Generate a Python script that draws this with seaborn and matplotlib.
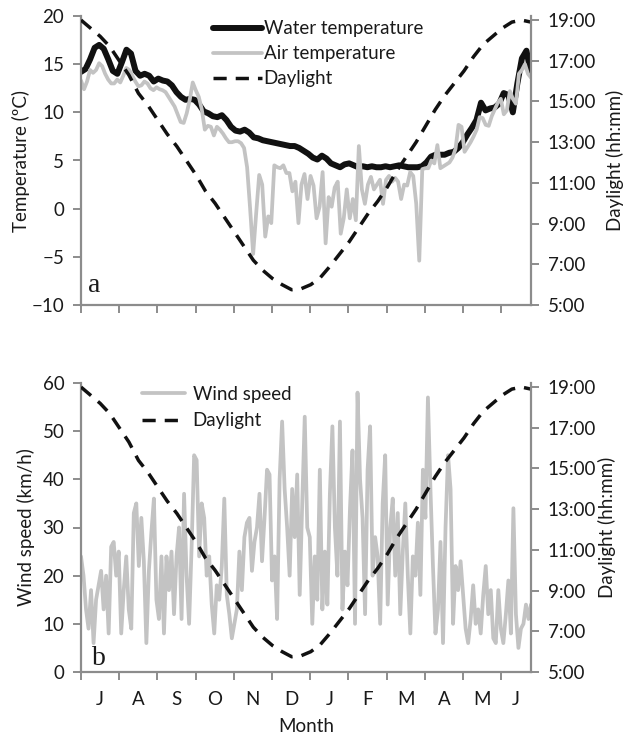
import numpy as np
import pandas as pd
import matplotlib
matplotlib.use("Agg")
import matplotlib.pyplot as plt
from matplotlib.lines import Line2D
import seaborn as sns

# ---------------- data ----------------
months = ["J", "A", "S", "O", "N", "D", "J", "F", "M", "A", "M", "J"]
x_end_months = 11.78  # data run from 1 July to late June

water_temp = [
    14.2, 14.5, 15.5, 16.7, 17.0, 16.6, 15.5, 14.3, 14.0, 15.2,
    16.5, 16.1, 14.3, 13.8, 14.0, 13.8, 13.2, 13.5, 13.3, 13.2,
    12.8, 12.1, 11.6, 11.3, 11.4, 11.3, 10.8, 10.1, 9.9, 9.6,
    9.5, 9.7, 9.2, 8.5, 8.1, 8.0, 8.2, 7.9, 7.4, 7.3,
    7.1, 7.0, 6.9, 6.8, 6.7, 6.6, 6.5, 6.5, 6.3, 6.0,
    5.7, 5.3, 5.1, 5.5, 5.2, 4.7, 4.5, 4.3, 4.6, 4.7,
    4.5, 4.3, 4.4, 4.3, 4.4, 4.3, 4.3, 4.4, 4.3, 4.4,
    4.5, 4.4, 4.3, 4.3, 4.3, 4.4, 4.8, 5.4, 5.6, 5.6,
    5.6, 5.8, 5.9, 6.3, 6.9, 7.7, 8.4, 9.2, 11.0, 10.2,
    10.4, 10.5, 10.9, 12.0, 11.8, 10.0, 13.0, 15.6, 16.4, 14.0,
]

air_temp = [
    13.3, 12.4, 13.2, 14.4, 14.1, 14.4, 15.1, 14.8, 14.0, 13.4,
    13.0, 13.0, 13.4, 13.1, 13.8, 14.6, 14.4, 13.8, 13.2, 12.7,
    12.8, 13.2, 13.0, 12.5, 12.3, 12.6, 12.4, 12.3, 12.1, 11.6,
    11.1, 10.6, 9.8, 9.0, 8.9, 9.9, 11.3, 13.1, 12.3, 11.6,
    10.3, 8.2, 8.6, 8.5, 7.6, 8.5, 8.2, 7.8, 7.3, 6.9,
    6.9, 7.0, 7.0, 6.8, 6.3, 4.3, 0.0, -4.7, -0.5, 3.5,
    2.5, -2.9, -0.8, -1.5, 4.5, 4.3, 4.2, 4.5, 3.7, 3.7,
    1.8, 2.8, -1.5, 2.5, 3.6, 1.0, 3.4, 2.4, -1.0, 0.2,
    3.8, -3.6, 1.2, 0.2, 2.2, 2.8, -2.6, -1.0, 2.0, -1.0,
    1.0, -1.2, 6.5, 2.0, 0.5, 2.5, 3.3, 2.0, 2.5, 3.0,
    0.5, 3.0, 3.4, 2.8, 3.2, 2.8, 1.0, 2.5, 2.4, 3.8,
    3.4, 0.5, -5.4, 4.1, 4.2, 4.2, 5.0, 4.7, 6.6, 4.2,
    4.4, 4.6, 4.8, 5.3, 6.2, 8.7, 8.5, 5.9, 6.4, 6.9,
    7.5, 8.2, 9.5, 9.4, 8.7, 8.6, 9.6, 10.3, 11.0, 11.4,
    9.8, 10.2, 12.2, 11.4, 10.9, 14.0, 14.4, 15.0, 14.0, 13.6,
]

# daylight length in hours
daylight = [
    19.0, 18.6, 18.2, 17.7, 17.0, 16.3, 15.4, 14.8, 14.1, 13.4,
    12.8, 12.1, 11.4, 10.6, 10.0, 9.3, 8.6, 7.9, 7.2, 6.7,
    6.3, 6.0, 5.75, 5.8, 6.0, 6.35, 6.9, 7.5, 8.1, 8.8,
    9.5, 10.1, 10.8, 11.6, 12.3, 13.0, 13.8, 14.6, 15.3, 15.9,
    16.5, 17.2, 17.8, 18.2, 18.6, 18.9, 19.0, 18.9,
]

wind_speed = [
    24, 20, 13, 9, 17, 6, 15, 18, 21, 13,
    20, 8, 26, 27, 20, 25, 8, 17, 24, 13,
    9, 33, 35, 22, 32, 23, 6, 21, 29, 36,
    15, 11, 24, 8, 24, 17, 25, 12, 24, 30,
    11, 37, 20, 10, 26, 45, 44, 24, 35, 32,
    20, 24, 14, 8, 18, 15, 22, 36, 16, 12,
    7, 10, 13, 25, 17, 28, 31, 32, 21, 27,
    30, 37, 23, 32, 42, 41, 19, 24, 11, 40,
    52, 38, 30, 20, 38, 28, 41, 16, 35, 53,
    30, 28, 10, 24, 15, 42, 13, 25, 14, 37,
    51, 30, 20, 52, 13, 25, 18, 34, 46, 10,
    58, 40, 32, 12, 42, 51, 20, 28, 24, 10,
    35, 45, 14, 30, 36, 20, 33, 12, 25, 35,
    20, 8, 24, 20, 31, 16, 42, 32, 57, 38,
    22, 8, 13, 27, 6, 30, 45, 38, 10, 22,
    17, 23, 16, 9, 6, 11, 18, 10, 13, 8,
    16, 22, 12, 17, 7, 6, 17, 9, 6, 12,
    19, 8, 34, 12, 5, 9, 10, 14, 11, 14,
]

# ---------------- frames ----------------
def frame(values, name):
    return pd.DataFrame({"month": np.linspace(0, x_end_months, len(values)),
                         name: values})

df_water = frame(water_temp, "water")
df_air = frame(air_temp, "air")
df_day = frame(daylight, "daylight")
df_wind = frame(wind_speed, "wind")

# ---------------- style ----------------
sns.set_theme(style="ticks")
plt.rcParams["font.family"] = ["Lato", "DejaVu Sans"]
TXT = "#1a1a1a"
SPINE = "#8c8c8c"
GRAY = "#c3c3c3"
FS = 13.5

fig = plt.figure(figsize=(6.24, 7.38), dpi=100)
ax1 = fig.add_axes([81/624, 1-305/738, 450/624, 289/738])
ax2 = fig.add_axes([81/624, 1-672/738, 450/624, 289/738])

DLW = 2.5
DASH = (3.8, 2.6)
WLW = 4.3
GLW = 2.7


def style_axes(ax, tw):
    for a in (ax, tw):
        a.spines["top"].set_visible(False)
        for s in ("left", "bottom", "right"):
            a.spines[s].set_color(SPINE)
            a.spines[s].set_linewidth(1.6)
    ax.spines["right"].set_visible(False)
    tw.spines["left"].set_visible(False)
    tw.spines["bottom"].set_visible(False)
    ax.set_xlim(0, x_end_months)
    ax.set_xticks(np.arange(0, 12))
    ax.tick_params(axis="x", which="major", length=6, width=1.4, color=SPINE,
                   labelbottom=False, direction="out")
    ax.tick_params(axis="y", length=6, width=1.4, color=SPINE, labelsize=FS,
                   labelcolor=TXT, pad=6)
    tw.set_ylim(5, 19.2)
    hrs = np.arange(5, 20, 2)
    tw.set_yticks(hrs)
    tw.set_yticklabels([f"{h}:00" for h in hrs])
    tw.tick_params(axis="y", length=6, width=1.4, color=SPINE, labelsize=FS,
                   labelcolor=TXT, pad=6)
    ax.grid(False)
    tw.grid(False)


# ---------------- panel a ----------------
tw1 = ax1.twinx()
sns.lineplot(data=df_water, x="month", y="water", ax=ax1, color="#111111",
             linewidth=WLW, legend=False)
sns.lineplot(data=df_air, x="month", y="air", ax=ax1, color=GRAY,
             linewidth=GLW, legend=False)
sns.lineplot(data=df_day, x="month", y="daylight", ax=tw1, color="#111111",
             linewidth=DLW, legend=False)
tw1.lines[-1].set_dashes(DASH)
ax1.set_ylim(-10, 20)
ax1.set_yticks(np.arange(-10, 21, 5))
style_axes(ax1, tw1)
ax1.set_xlabel("")
ax1.set_ylabel("Temperature (\u00baC)", fontsize=FS, color=TXT, va="center")
ax1.yaxis.set_label_coords(-0.133, 0.5)
tw1.set_ylabel("Daylight (hh:mm)", fontsize=FS, color=TXT, va="center")
tw1.yaxis.set_label_coords(1.187, 0.5)
ax1.text(0.016, 0.068, "a", transform=ax1.transAxes, fontsize=20,
         family="Liberation Serif", color=TXT, ha="left", va="center")

h1 = [Line2D([], [], color="#111111", lw=WLW),
      Line2D([], [], color=GRAY, lw=GLW),
      Line2D([], [], color="#111111", lw=DLW, dashes=DASH)]
leg1 = ax1.legend(h1, ["Water temperature", "Air temperature", "Daylight"],
                  loc="upper left", bbox_to_anchor=((213-81)/450, 0.985),
                  frameon=False, fontsize=FS, handlelength=2.6,
                  handletextpad=0.1, labelspacing=0.42, borderpad=0,
                  borderaxespad=0)
for t in leg1.get_texts():
    t.set_color(TXT)

# ---------------- panel b ----------------
tw2 = ax2.twinx()
sns.lineplot(data=df_wind, x="month", y="wind", ax=ax2, color=GRAY,
             linewidth=GLW, legend=False)
sns.lineplot(data=df_day, x="month", y="daylight", ax=tw2, color="#111111",
             linewidth=DLW, legend=False)
tw2.lines[-1].set_dashes(DASH)
ax2.set_ylim(0, 60)
ax2.set_yticks(np.arange(0, 61, 10))
style_axes(ax2, tw2)
ax2.set_xticks([i + 0.5 for i in range(11)] + [(11 + x_end_months) / 2],
               minor=True)
ax2.set_xticklabels(months, minor=True)
ax2.tick_params(axis="x", which="minor", length=0, labelsize=FS,
                labelcolor=TXT, pad=14, labelbottom=True)
ax2.set_xlabel("Month", fontsize=FS, color=TXT, labelpad=7)
ax2.set_ylabel("Wind speed (km/h)", fontsize=FS, color=TXT, va="center")
ax2.yaxis.set_label_coords(-0.122, 0.5)
tw2.set_ylabel("Daylight (hh:mm)", fontsize=FS, color=TXT, va="center")
tw2.yaxis.set_label_coords(1.169, 0.5)
ax2.text(0.024, 0.048, "b", transform=ax2.transAxes, fontsize=20,
         family="Liberation Serif", color=TXT, ha="left", va="center")

h2 = [Line2D([], [], color=GRAY, lw=GLW),
      Line2D([], [], color="#111111", lw=DLW, dashes=DASH)]
leg2 = ax2.legend(h2, ["Wind speed", "Daylight"], loc="upper left",
                  bbox_to_anchor=((142-81)/450, 0.99), frameon=False,
                  fontsize=FS, handlelength=2.3, handletextpad=0.4,
                  labelspacing=0.5, borderpad=0, borderaxespad=0)
for t in leg2.get_texts():
    t.set_color(TXT)

fig.savefig("out.png", dpi=100)
